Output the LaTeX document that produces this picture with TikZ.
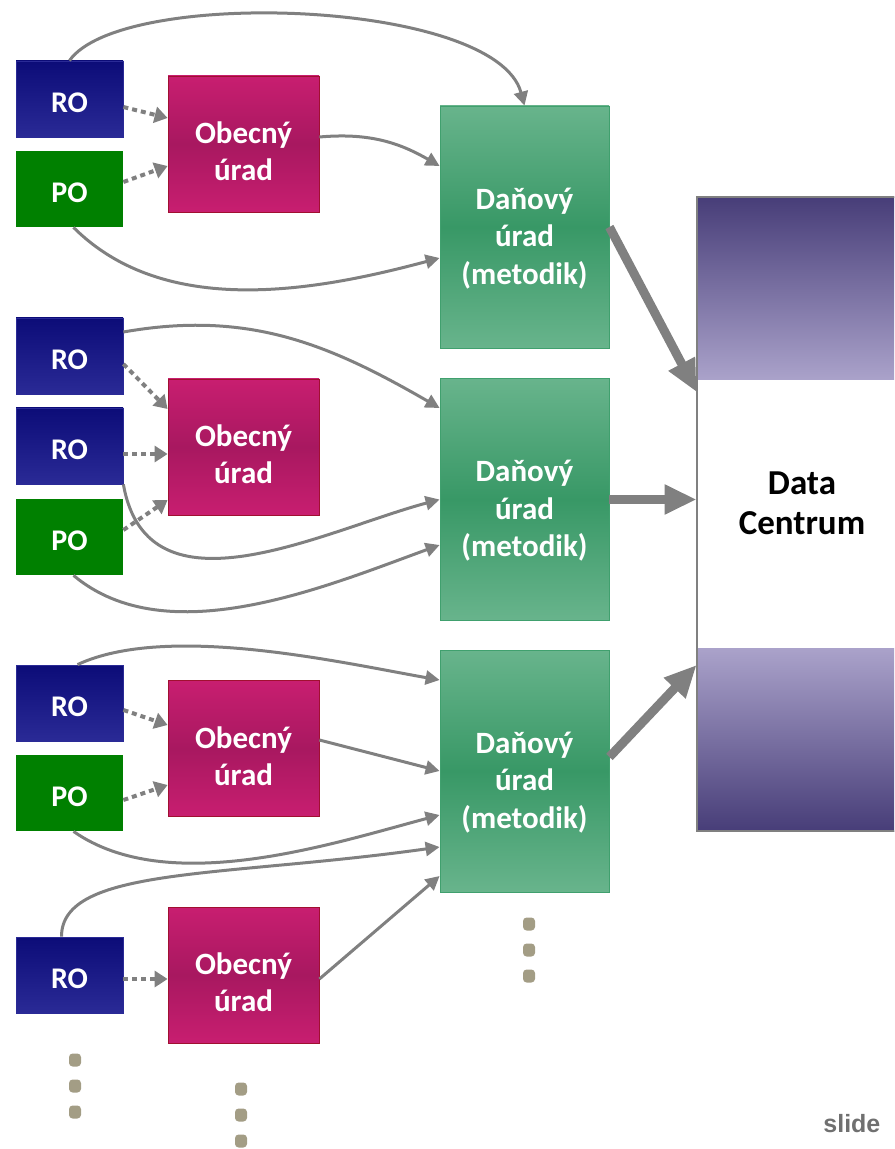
\documentclass[tikz,border=0pt]{standalone}
\usepackage{fontspec}
\setmainfont{Carlito}
\newfontfamily\slidefont{Liberation Sans}
\usetikzlibrary{arrows.meta}

\definecolor{rotop}{RGB}{12,12,120}
\definecolor{robot}{RGB}{42,42,150}
\definecolor{pogreen}{RGB}{0,128,0}
\definecolor{ouedge}{RGB}{200,30,112}
\definecolor{oumid}{RGB}{168,24,96}
\definecolor{ouline}{RGB}{160,16,48}
\definecolor{duedge}{RGB}{104,180,140}
\definecolor{dumid}{RGB}{56,152,102}
\definecolor{duline}{RGB}{64,160,110}
\definecolor{dcdark}{RGB}{71,61,120}
\definecolor{dclight}{RGB}{170,162,202}
\definecolor{arrowgray}{RGB}{128,128,128}
\definecolor{slidegray}{RGB}{112,112,112}
\definecolor{dotgray}{RGB}{163,157,133}

\begin{document}
\begin{tikzpicture}[x=0.5pt,y=0.5pt,
  box/.style={minimum width=53.5pt, minimum height=38pt, inner sep=0pt, text=white,
    font=\bfseries\fontsize{15}{17.5}\selectfont},
  robox/.style={box, draw=robot, top color=rotop, bottom color=robot, text height=13.2pt},
  pobox/.style={box, fill=pogreen, text height=13.2pt},
  oubox/.style={box, draw=ouline, top color=ouedge, bottom color=ouedge, middle color=oumid,
    minimum width=75.5pt, minimum height=68pt, align=center,
    font=\bfseries\fontsize{15.5}{18.5}\selectfont},
  dubox/.style={box, draw=duline, top color=duedge, bottom color=duedge, middle color=dumid,
    minimum width=84.5pt, minimum height=121pt, align=center,
    font=\bfseries\fontsize{15.5}{18.75}\selectfont},
  flow/.style={draw=arrowgray, line width=1.5pt, -{Triangle[length=7pt,width=7pt]}},
  dotflow/.style={draw=arrowgray, line width=2pt, dash pattern=on 2.5pt off 2pt,
    -{Triangle[length=6.5pt,width=8pt]}},
  bigflow/.style={draw=arrowgray, line width=4.5pt, -{Triangle[length=16pt,width=14pt]}},
  dotmark/.style={fill=dotgray, rounded corners=1.8pt, minimum width=6pt,
    minimum height=6.5pt, inner sep=0pt}
]
\useasboundingbox (0,0) rectangle (894,-1149);
\clip (0,0) rectangle (894,-1149);

% Data Centrum
\node[draw=arrowgray, fill=white, minimum width=101.5pt, minimum height=317pt, inner sep=0pt] (dc) at (798.5,-514) {};
\shade[top color=dcdark, bottom color=dclight] (dc.north west) rectangle ([yshift=-91.5pt]dc.north east);
\shade[top color=dclight, bottom color=dcdark] ([yshift=91.5pt]dc.south west) rectangle (dc.south east);
\draw[arrowgray, line width=1pt] (dc.south east) -- (dc.south west) -- (dc.north west) -- (dc.north east);
\node[align=center, font=\bfseries\fontsize{17.5}{20}\selectfont] (dctext) at (802,-503) {Data\\Centrum};

% boxes
\foreach \n/\y in {ro1/99, ro2/356, ro3/446, ro4/703, ro5/975}{
\node[robox] (\n) at (69.5,-\y) {RO};
}
\foreach \n/\y in {po1/189, po2/537, po3/793}{
\node[pobox] (\n) at (69.5,-\y) {PO};
}
\foreach \n/\y in {ou1/144, ou2/447, ou3/748.5, ou4/975}{
\node[oubox] (\n) at (243.5,-\y) {\rule{0pt}{18.6pt}Obecný\\úrad};
}
\foreach \n/\y in {du1/227, du2/499.5, du3/771}{
\node[dubox] (\n) at (524.5,-\y) {\rule{0pt}{22pt}Daňový\\úrad\\(metodik)};
}

% dotted links to the offices
\foreach \a/\sa/\b/\sb in {ro1/-4/ou1/13, po1/3.5/ou1/-11, ro2/-4/ou2/19, ro3/-4/ou2/-3.5,
  po2/3.5/ou2/-26.5, ro4/-3.5/ou3/11.75, po3/-3.5/ou3/-18.25, ro5/-2/ou4/-2}{
\draw[dotflow] ([yshift=\sa pt]\a.east) -- ([yshift=\sb pt]\b.west);
}

% first group
\draw[flow] (ro1.north) to[out=55,in=105,out distance=45pt,in distance=55pt] (du1.north);
\draw[flow] ([yshift=3.5pt]ou1.east) to[out=5,in=150] ([yshift=30.5pt]du1.west);
\draw[flow] ([xshift=2pt]po1.south) to[out=-45,in=195,looseness=0.9] ([yshift=-15.5pt]du1.west);

% second group
\draw[flow] ([yshift=12pt]ro2.east) to[out=10,in=150] ([yshift=45.75pt]du2.west);
\draw[flow] (ro3.south east) to[out=-80,in=195,out distance=70pt,in distance=60pt] (du2.west);
\draw[flow] ([xshift=2pt]po2.south) to[out=-40,in=200,looseness=0.85] ([yshift=-22.75pt]du2.west);

% third group
\draw[flow] ([xshift=4pt]ro4.north) to[out=25,in=170,looseness=0.7] ([yshift=45.5pt]du3.west);
\draw[flow] ([yshift=4.25pt]ou3.east) -- (du3.west);
\draw[flow] ([xshift=2pt]po3.south) to[out=-35,in=195,looseness=0.8] ([yshift=-22pt]du3.west);
\draw[flow] ([xshift=-4pt]ro5.north) to[out=90,in=188,out distance=35pt,in distance=110pt] ([yshift=-38pt]du3.west);
\draw[flow] ([yshift=-2pt]ou4.east) -- ([yshift=-52.5pt]du3.west);

% into the data centre
\draw[bigflow] (du1.east) -- ([yshift=61pt]dc.west);
\draw[bigflow] (du2.east) -- (du2.east -| dc.west);
\draw[bigflow] ([yshift=7pt]du3.east) -- ([yshift=-75.5pt]dc.west);

% more of the same
\foreach \x/\y [count=\i] in {75/1060, 75/1086, 75/1112, 241/1089, 241/1115, 241/1141,
  529/924, 529/950, 529/976}{
\node[dotmark] (dot\i) at (\x,-\y) {};
}

\node[anchor=base west, inner sep=0pt, text=slidegray, font=\slidefont\bfseries\fontsize{12.5}{14}\selectfont] (slide) at (823,-1132) {slide};
\end{tikzpicture}
\end{document}
